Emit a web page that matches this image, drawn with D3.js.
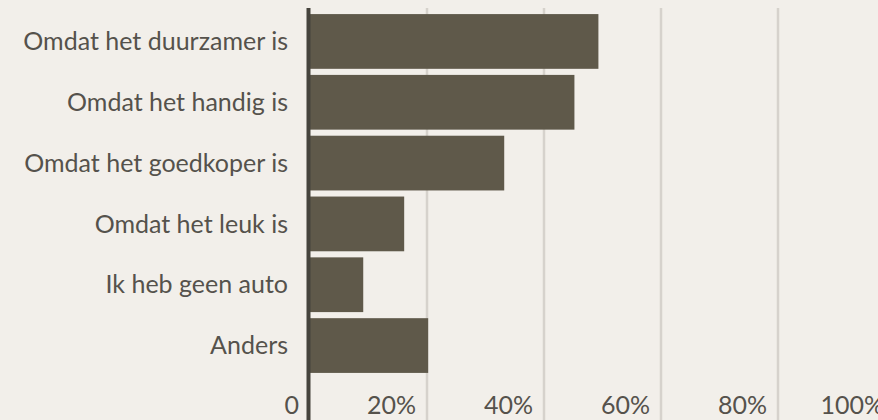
<!DOCTYPE html>
<html lang="nl">
<head>
  <meta charset="UTF-8">
  <title>Waarom deelauto</title>
  <script src="https://cdn.jsdelivr.net/npm/d3@7"></script>
  <style>
    body { margin: 0; background: #f2efea; }
    text { font-family: Lato, "Noto Sans", sans-serif; fill: #55524c; }
  </style>
</head>
<body>
<svg width="878" height="420"></svg>
<script>
  // data
  var categories = ["Omdat het duurzamer is", "Omdat het handig is", "Omdat het goedkoper is",
                    "Omdat het leuk is", "Ik heb geen auto", "Anders"];
  var values = [0.493, 0.452, 0.332, 0.161, 0.091, 0.202];
  var tickValues = [0, 0.2, 0.4, 0.6, 0.8, 1.0];
  var tickLabels = ["0", "20%", "40%", "60%", "80%", "100%"];

  var svg = d3.select("svg"),
      width = +svg.attr("width"),
      height = +svg.attr("height");

  svg.append("rect").attr("width", width).attr("height", height).attr("fill", "#f2efea");

  var x = d3.scaleLinear().domain([0, 1]).range([310, 895]);
  var y = d3.scaleBand().domain(categories).range([8, 379]).paddingInner(0.1).paddingOuter(0.1);

  // grid lines
  svg.append("g")
    .selectAll("line")
    .data(tickValues.slice(1))
    .enter().append("line")
      .attr("x1", function(d) { return x(d); })
      .attr("x2", function(d) { return x(d); })
      .attr("y1", 8)
      .attr("y2", height)
      .attr("stroke", "#d6d2cc")
      .attr("stroke-width", 2.5);

  // bars
  svg.append("g")
    .selectAll("rect")
    .data(values)
    .enter().append("rect")
      .attr("x", x(0))
      .attr("y", function(d, i) { return y(categories[i]); })
      .attr("width", function(d) { return x(d) - x(0); })
      .attr("height", y.bandwidth())
      .attr("fill", "#5f594a");

  // value axis line
  svg.append("line")
    .attr("x1", x(0) - 1.5).attr("x2", x(0) - 1.5)
    .attr("y1", 8).attr("y2", height)
    .attr("stroke", "#46443d")
    .attr("stroke-width", 4);

  // category labels
  svg.append("g")
    .selectAll("text")
    .data(categories)
    .enter().append("text")
      .attr("x", x(0) - 22)
      .attr("y", function(d) { return y(d) + y.bandwidth() / 2; })
      .attr("dy", "0.35em")
      .attr("text-anchor", "end")
      .style("font-size", "25px")
      .text(function(d) { return d; });

  // tick labels
  svg.append("g")
    .selectAll("text")
    .data(tickValues)
    .enter().append("text")
      .attr("x", function(d) { return x(d) - 11; })
      .attr("y", 414)
      .attr("text-anchor", "end")
      .style("font-size", "25px")
      .text(function(d, i) { return tickLabels[i]; });
</script>
</body>
</html>
